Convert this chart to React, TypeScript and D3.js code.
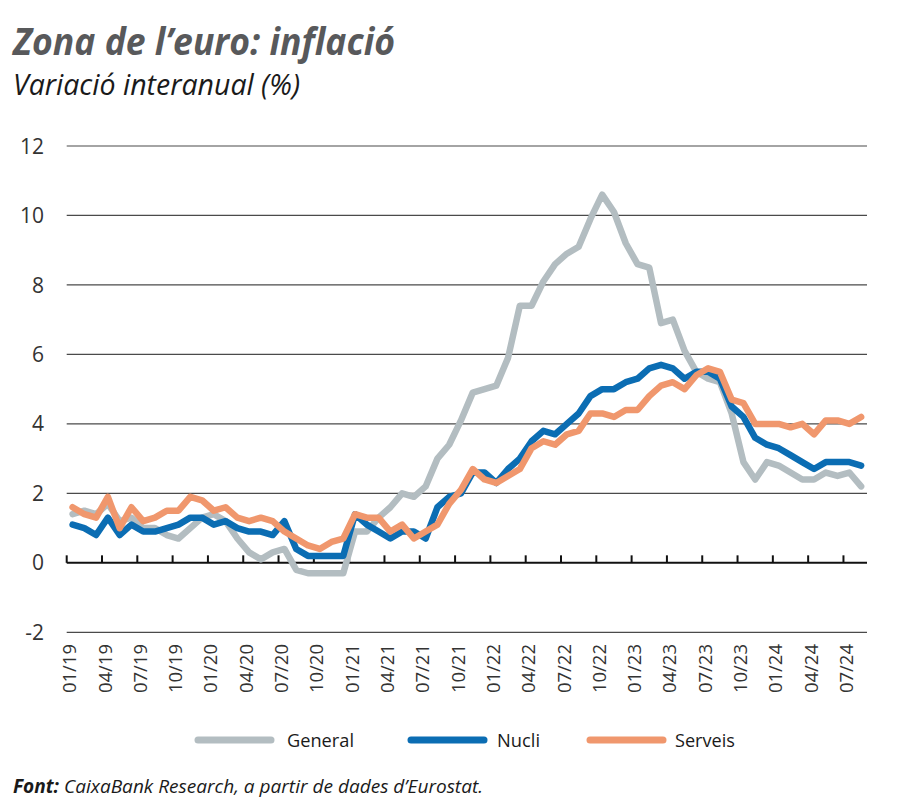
import React from "react";
import * as d3 from "d3";

const years = ["19", "20", "21", "22", "23", "24"];
const monthNums = ["01", "02", "03", "04", "05", "06", "07", "08", "09", "10", "11", "12"];
const months: string[] = years.flatMap((y) => monthNums.map((m) => `${m}/${y}`)).slice(0, 68);

const tickLabels = [
  "01/19", "04/19", "07/19", "10/19", "01/20", "04/20", "07/20", "10/20",
  "01/21", "04/21", "07/21", "10/21", "01/22", "04/22", "07/22", "10/22",
  "01/23", "04/23", "07/23", "10/23", "01/24", "04/24", "07/24",
];

const yTicks = [-2, 0, 2, 4, 6, 8, 10, 12];

const general = [
  1.4, 1.5, 1.4, 1.7, 1.2, 1.3, 1.0, 1.0, 0.8, 0.7, 1.0, 1.3,
  1.4, 1.2, 0.7, 0.3, 0.1, 0.3, 0.4, -0.2, -0.3, -0.3, -0.3, -0.3,
  0.9, 0.9, 1.3, 1.6, 2.0, 1.9, 2.2, 3.0, 3.4, 4.1, 4.9, 5.0,
  5.1, 5.9, 7.4, 7.4, 8.1, 8.6, 8.9, 9.1, 9.9, 10.6, 10.1, 9.2,
  8.6, 8.5, 6.9, 7.0, 6.1, 5.5, 5.3, 5.2, 4.3, 2.9, 2.4, 2.9,
  2.8, 2.6, 2.4, 2.4, 2.6, 2.5, 2.6, 2.2,
];

const nucli = [
  1.1, 1.0, 0.8, 1.3, 0.8, 1.1, 0.9, 0.9, 1.0, 1.1, 1.3, 1.3,
  1.1, 1.2, 1.0, 0.9, 0.9, 0.8, 1.2, 0.4, 0.2, 0.2, 0.2, 0.2,
  1.4, 1.1, 0.9, 0.7, 0.9, 0.9, 0.7, 1.6, 1.9, 2.0, 2.6, 2.6,
  2.3, 2.7, 3.0, 3.5, 3.8, 3.7, 4.0, 4.3, 4.8, 5.0, 5.0, 5.2,
  5.3, 5.6, 5.7, 5.6, 5.3, 5.5, 5.5, 5.3, 4.5, 4.2, 3.6, 3.4,
  3.3, 3.1, 2.9, 2.7, 2.9, 2.9, 2.9, 2.8,
];

const serveis = [
  1.6, 1.4, 1.3, 1.9, 1.0, 1.6, 1.2, 1.3, 1.5, 1.5, 1.9, 1.8,
  1.5, 1.6, 1.3, 1.2, 1.3, 1.2, 0.9, 0.7, 0.5, 0.4, 0.6, 0.7,
  1.4, 1.3, 1.3, 0.9, 1.1, 0.7, 0.9, 1.1, 1.7, 2.1, 2.7, 2.4,
  2.3, 2.5, 2.7, 3.3, 3.5, 3.4, 3.7, 3.8, 4.3, 4.3, 4.2, 4.4,
  4.4, 4.8, 5.1, 5.2, 5.0, 5.4, 5.6, 5.5, 4.7, 4.6, 4.0, 4.0,
  4.0, 3.9, 4.0, 3.7, 4.1, 4.1, 4.0, 4.2,
];

const seriesNames = ["General", "Nucli", "Serveis"];
const seriesColors = ["#b3bdc1", "#0b6db3", "#f0976d"];

export default function App() {
  const x = d3.scaleBand<string>().domain(months).range([66.7, 867]).paddingInner(0).paddingOuter(0);
  const y = d3.scaleLinear().domain([-2, 12]).range([632.3, 146]);
  const cx = (m: string) => (x(m) as number) + x.bandwidth() / 2;

  const line = d3
    .line<number>()
    .x((_, i) => cx(months[i]))
    .y((d) => y(d));

  const data = [general, nucli, serveis];
  const legendX = [198, 411, 590];
  const legendTextX = [287, 497, 675];
  const legendW = [67, 43, 60];

  return (
    <svg width={900} height={810} style={{ position: "absolute", left: 0, top: 0, background: "#fff" }}>
      <rect x={0} y={0} width={900} height={810} fill="#fff" />
      <text x={13} y={55} fontFamily="'Open Sans', sans-serif" fontWeight={700} fontStyle="italic" fontSize={38} fill="#58595b" textLength={382} lengthAdjust="spacingAndGlyphs">
        Zona de l’euro: inflació
      </text>
      <text x={13} y={95} fontFamily="'Open Sans', sans-serif" fontStyle="italic" fontSize={30} fill="#1a1a1a" textLength={287} lengthAdjust="spacingAndGlyphs">
        Variació interanual (%)
      </text>

      {yTicks.filter((t) => t !== 0).map((t) => (
        <line key={t} x1={66.7} x2={867} y1={y(t)} y2={y(t)} stroke="#4a4a4a" strokeWidth={1.2} />
      ))}
      {yTicks.map((t) => (
        <text key={"l" + t} x={44} y={y(t)} dy="0.36em" textAnchor="end" fontFamily="'Open Sans', sans-serif" fontSize={21} fill="#333">
          {t}
        </text>
      ))}

      <line x1={66.7} x2={867} y1={y(0)} y2={y(0)} stroke="#111" strokeWidth={2} />
      {tickLabels.map((lab) => (
        <line key={"t" + lab} x1={x(lab) as number} x2={x(lab) as number} y1={y(0) - 7.5} y2={y(0)} stroke="#111" strokeWidth={2} />
      ))}
      {tickLabels.map((lab) => (
        <text
          key={"x" + lab}
          transform={`translate(${cx(lab) - 3},644) rotate(-90)`}
          dy="0.36em"
          textAnchor="end"
          fontFamily="'Open Sans', sans-serif"
          fontSize={18.5}
          fill="#333"
        >
          {lab}
        </text>
      ))}

      {data.map((d, i) => (
        <path key={seriesNames[i]} d={line(d) as string} fill="none" stroke={seriesColors[i]} strokeWidth={6.5} strokeLinejoin="round" strokeLinecap="round" />
      ))}

      {seriesNames.map((n, i) => (
        <g key={"lg" + n}>
          <line x1={legendX[i]} x2={legendX[i] + 73} y1={740} y2={740} stroke={seriesColors[i]} strokeWidth={7} strokeLinecap="round" />
          <text x={legendTextX[i]} y={740} dy="0.36em" fontFamily="'Open Sans', sans-serif" fontSize={19} fill="#1a1a1a" textLength={legendW[i]} lengthAdjust="spacingAndGlyphs">
            {n}
          </text>
        </g>
      ))}

      <text x={13} y={793} fontFamily="'Open Sans', sans-serif" fontSize={19} fontStyle="italic" fill="#1a1a1a" textLength={470} lengthAdjust="spacingAndGlyphs">
        <tspan fontWeight={700}>Font:</tspan>
        <tspan> CaixaBank Research, a partir de dades d’Eurostat.</tspan>
      </text>
    </svg>
  );
}
